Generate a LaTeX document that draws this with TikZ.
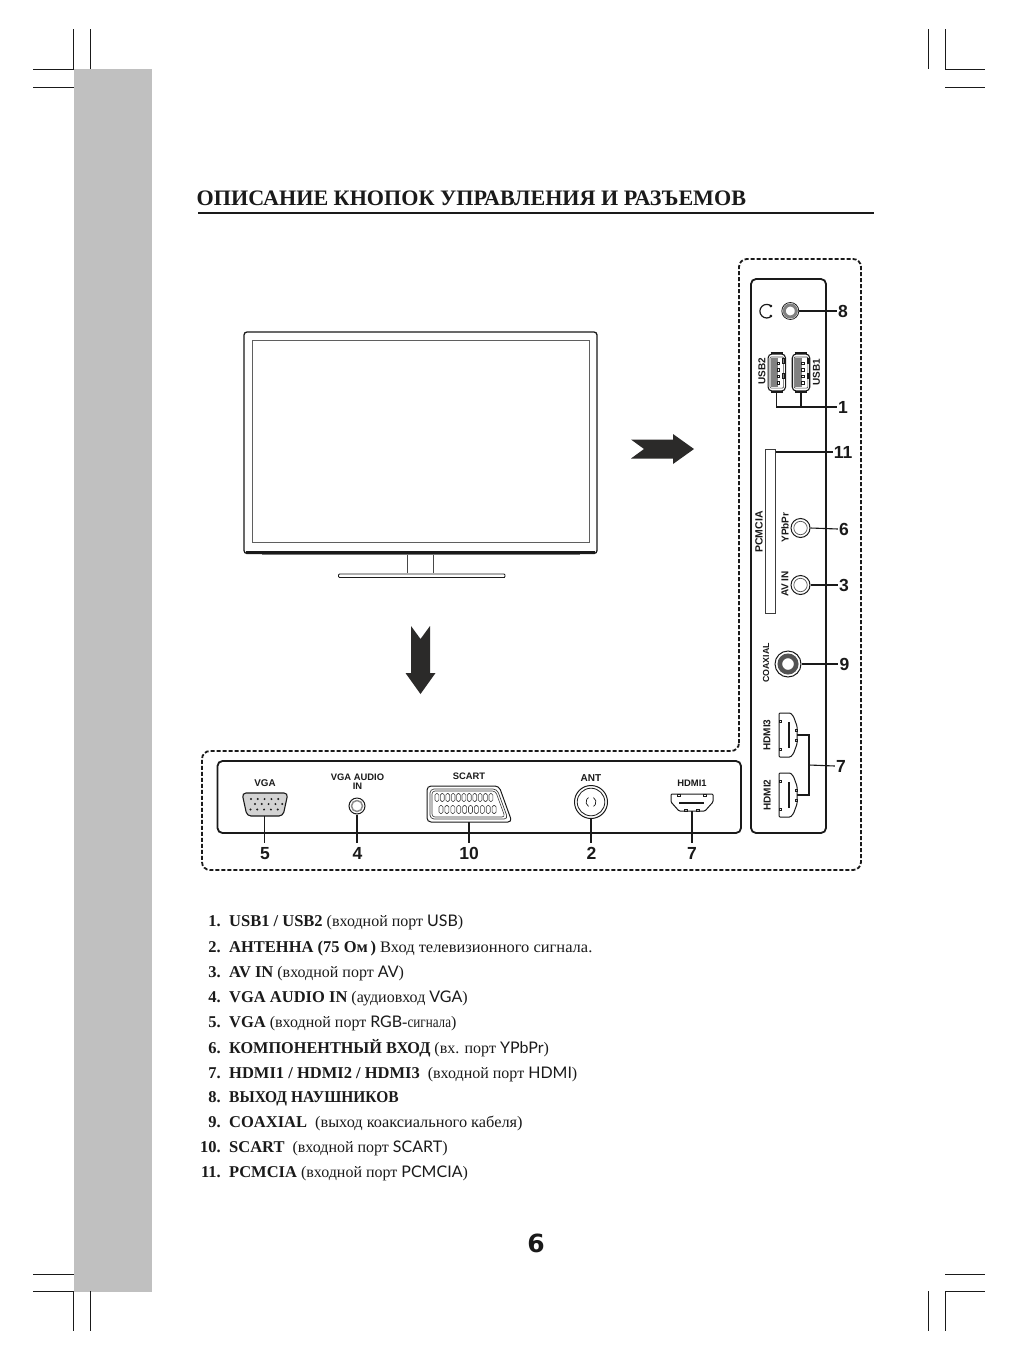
\documentclass[tikz,border=0pt]{standalone}
\usepackage{fontspec}
\setmainfont{Liberation Serif}
\newfontfamily\hsans{Liberation Sans}
\newfontfamily\gsans{Lato}
\newfontfamily\heavy{DejaVu Sans}
\definecolor{band}{HTML}{C0C0C0}
\definecolor{ink}{HTML}{1A1A1A}
\definecolor{arrowink}{HTML}{2B2A29}
\newcommand{\fs}[1]{\fontsize{#1}{#1}\selectfont}
\newcommand{\pl}[1]{{\gsans #1}}
\newcommand{\bt}[1]{\textbf{\fs{16.5}#1}}
\tikzset{
 crop/.style={line width=1pt,draw=ink},
 panel/.style={line width=1.8pt,draw=ink,rounded corners=5pt},
 dashbox/.style={line width=1.8pt,draw=ink,dash pattern=on 4pt off 2pt,rounded corners=8pt},
 lead/.style={line width=1.1pt,draw=ink},
 numlab/.style={font=\hsans\bfseries\fs{17.5},text=ink,inner sep=1pt},
 portlab/.style={font=\hsans\bfseries\fs{9.4},text=ink,inner sep=0pt,align=center},
 sidelab/.style={font=\hsans\bfseries\fs{10},text=ink,inner sep=0pt,rotate=90},
 jack/.style={circle,draw=ink,line width=1pt,fill=white,inner sep=0pt},
 listnum/.style={anchor=base east,inner sep=0pt,font=\bfseries\fs{16.5},text=ink},
 listtxt/.style={anchor=base west,inner sep=0pt,font=\fs{16},text=ink},
 pin/.style={draw=ink!80,line width=.6pt,rounded corners=1.5pt},
 downlead/.style={lead,shorten >=3pt},
}
\begin{document}
\begin{tikzpicture}[x=1pt,y=-1pt]
\useasboundingbox (0,0) rectangle (1020,1360);
\fill[white] (0,0) rectangle (1020,1360);
\fill[band] (74,69) rectangle (152,1292);
% crop marks
\foreach \x in {73.5,90,928,945}{
 \draw[crop] (\x,29)--(\x,69);
 \draw[crop] (\x,1291)--(\x,1331);
}
\foreach \y in {69,87,1274,1291}{
 \draw[crop] (33,\y)--(74,\y);
 \draw[crop] (945,\y)--(985,\y);
}
% title
\node[anchor=base west,inner sep=0pt,font=\bfseries\fs{22.1},text=ink] (title) at (196.5,205) {ОПИСАНИЕ КНОПОК УПРАВЛЕНИЯ И РАЗЪЕМОВ};
\draw[line width=2pt,draw=ink] (198,213)--(874,213);
% TV
\draw[line width=1.3pt,draw=ink,rounded corners=3pt] (244,332)--(597,332)--(597,553.5)--(244,553.5)--cycle;
\draw[line width=.9pt,draw=ink!70] (252,340) rectangle (589,542);
\draw[line width=1.8pt,draw=ink] (246,552)--(595,552);
\draw[line width=.7pt,draw=ink!60] (262,554.5)--(580,554.5);
\draw[line width=.8pt,draw=ink!80] (407.5,555)--(407.5,573);
\draw[line width=.8pt,draw=ink!80] (433,555)--(433,573);
\draw[line width=.8pt,draw=ink,rounded corners=1pt] (338.5,574)--(505,574)--(505,577.5)--(338.5,577.5)--cycle;
\draw[line width=1.5pt,draw=ink] (339,577.3)--(505,577.3);
% block arrows
\fill[arrowink] (631,439.5)--(673,439.5)--(673,434)--(694,449)--(673,464)--(673,458.5)--(631,458.5)--(644,449)--cycle;
\fill[arrowink] (411,626)--(420.5,639)--(430,626)--(430,673)--(435.5,673)--(420.5,694)--(405.5,673)--(411,673)--cycle;
% frames
\draw[dashbox] (739,751)--(739,259)--(861,259)--(861,870)--(202,870)--(202,751)--cycle;
\draw[panel] (751,279) -- (826,279) -- (826,833) -- (751,833) -- cycle;
\draw[panel] (217.5,761) -- (741,761) -- (741,833) -- (217.5,833) -- cycle;
% number labels
\node[numlab] (n8) at (843,311) {8};
\node[numlab] (n1) at (843,407) {1};
\node[numlab] (n11) at (843,452) {11};
\node[numlab] (n6) at (844,529) {6};
\node[numlab] (n3) at (844,585) {3};
\node[numlab] (n9) at (844.5,664) {9};
\node[numlab] (n7r) at (841,766) {7};
\node[numlab] (n5) at (265,853.5) {5};
\node[numlab] (n4) at (357.5,853.5) {4};
\node[numlab] (n10) at (469,853.5) {10};
\node[numlab] (n2) at (591.5,853.5) {2};
\node[numlab] (n7b) at (692,853.5) {7};
% headphone + jack 8
\draw[line width=1.2pt,draw=ink] (771.5,316) arc (45:315:6.8);
\fill[ink] (770.8,316) circle (1.5) (770.8,306) circle (1.5);
\node[jack,minimum size=17pt,line width=.8pt] (j8) at (790.3,311) {};
\draw[draw=ink!55,line width=3pt] (j8.center) circle (6);
\draw[lead] (j8.east)--(n8.west);
% USB
\newcommand{\usbport}[2]{%
 \node[draw=ink,line width=1.1pt,rounded corners=4pt,minimum width=17.5pt,minimum height=37pt,inner sep=0pt] (#1) at (#2) {};
 \draw[draw=ink!80,line width=.6pt,rounded corners=1pt] ([xshift=2.5pt,yshift=-3.5pt]#1.north west) rectangle ([xshift=-2.5pt,yshift=3.5pt]#1.south east);
 \fill[ink!55] ([xshift=3.5pt,yshift=-5pt]#1.north west) rectangle ([xshift=-8pt,yshift=5pt]#1.south east);
 \foreach \d in {-10.5,-4,2.5,9}{\draw[draw=ink,line width=.7pt,fill=white] ([xshift=.5pt,yshift=-\d pt]#1.center) rectangle +(2.4,2.4);}
 \draw[draw=ink,line width=.7pt] ([xshift=6pt,yshift=-6pt]#1.center) rectangle +(1.6,-5);
 \draw[draw=ink,line width=.7pt] ([xshift=6pt,yshift=9pt]#1.center) rectangle +(1.6,-5);
 \draw[draw=ink,line width=2pt] ([xshift=3pt]#1.south west)--([xshift=-3pt]#1.south east);
 \draw[draw=ink,line width=2pt] ([xshift=3pt]#1.north west)--([xshift=-3pt]#1.north east);
}
\usbport{u2}{776.8,372.5}
\usbport{u1}{801,372.5}
\node[sidelab] (lu2) at (762,371.5) {USB2};
\node[sidelab] (lu1) at (816.5,372) {USB1};
\draw[lead] (u2.south) |- (n1.west);
\draw[lead] (u1.south) -- (u1.south |- n1.west);
% PCMCIA
\node[draw=ink!85,line width=1pt,minimum width=10pt,minimum height=164pt,inner sep=0pt] (pc) at (770,531) {};
\node[sidelab,font=\hsans\bfseries\fs{10.5}] (lpc) at (759,532) {PCMCIA};
\draw[lead] (pc.north east |- n11.west) -- (n11.west);
% RCA
\node[jack,minimum size=19pt] (j6) at (800.5,528) {};
\draw[draw=ink!75,line width=.7pt] (j6.center) circle (6.7);
\node[sidelab] (l6) at (785,527.5) {YPbPr};
\draw[lead] (j6.east)--(n6.west);
\node[jack,minimum size=19pt] (j3) at (800.5,585) {};
\draw[draw=ink!75,line width=.7pt] (j3.center) circle (6.7);
\node[sidelab] (l3) at (785,584) {AV IN};
\draw[lead] (j3.east)--(n3.west);
% coaxial
\node[jack,minimum size=26pt] (j9) at (788,664) {};
\draw[draw=ink!75,line width=4.6pt] (j9.center) circle (8.2);
\node[sidelab,font=\hsans\bfseries\fs{8.8}] (l9) at (766,663) {COAXIAL};
\draw[lead] (j9.east)--(n9.west);
% HDMI vertical
\newcommand{\hdmiv}[2]{%
 \node[inner sep=0pt,minimum width=18pt,minimum height=44pt] (#1) at (788,#2) {};
 \begin{scope}[shift={(788,#2)}]
 \draw[line width=1pt,draw=ink,rounded corners=1pt] (-9,-22)--(2.5,-22)--(5.5,-18.5)--(9,-9)--(9,9)--(5.5,18.5)--(2.5,22)--(-9,22)--cycle;
 \draw[line width=2pt,draw=ink] (1,-13)--(1,13);
 \foreach \yy in {-15,13}{\draw[line width=.6pt,draw=ink] (-9,\yy) rectangle (-7,\yy+2.5);}
 \foreach \yy in {-6,4}{\draw[line width=.6pt,draw=ink] (9,\yy) rectangle (7,\yy+2.5);}
 \end{scope}
}
\hdmiv{h3}{735}
\hdmiv{h2}{795}
\node[sidelab] (lh3) at (767,735) {HDMI3};
\node[sidelab] (lh2) at (767,795) {HDMI2};
\coordinate (hj) at (809,765);
\draw[lead] (h3.east) -| (hj) |- (h2.east);
\draw[lead] (hj) -- (n7r.west);
% VGA
\node[inner sep=0pt,minimum width=46pt,minimum height=23pt] (vga) at (264.5,804.5) {};
\draw[line width=1.1pt,draw=ink,fill=band!70,rounded corners=4pt] (242,793)--(288,793)--(283,816)--(247,816)--cycle;
\foreach \i in {0,...,4}{
 \fill[ink] (251+6.8*\i,799) circle (1.1);
 \fill[ink] (255+6.8*\i,804) circle (1.1);
 \fill[ink] (250.5+6.8*\i,809.5) circle (1.1);}
\node[portlab,font=\hsans\bfseries\fs{9.8}] (lvga) at (265,783) {VGA};
\draw[downlead] (vga.south) -- (vga.south |- n5.north);
% audio
\node[jack,minimum size=16pt] (j4) at (357,806) {};
\draw[draw=ink!50,line width=1.5pt] (j4.center) circle (5.5);
\node[portlab] (l4) at (357.5,782) {VGA AUDIO\\[-.5pt]IN};
\draw[downlead] (j4.south) -- (j4.south |- n4.north);
% SCART
\node[inner sep=0pt,minimum width=85pt,minimum height=36pt] (sc) at (469,804) {};
\draw[line width=1pt,draw=ink,rounded corners=4pt] (427,786)--(499,786)--(512,822)--(427,822)--cycle;
\draw[line width=.7pt,draw=ink!85,rounded corners=4pt] (430,789)--(497,789)--(508,819)--(430,819)--cycle;
\draw[line width=.6pt,draw=ink!85,rounded corners=3pt] (432,791)--(495.5,791)--(505,817)--(432,817)--cycle;
\foreach \i in {0,...,10}{\draw[pin] (435+5.4*\i,793.5) rectangle +(3.8,8);}
\foreach \i in {0,...,9}{\draw[pin] (439+5.9*\i,805.5) rectangle +(4,8);}
\node[portlab] (lsc) at (469,776) {SCART};
\draw[downlead] (sc.south) -- (sc.south |- n10.north);
% ANT
\node[jack,minimum size=33pt] (j2) at (591,802) {};
\draw[draw=ink,line width=.8pt] (j2.center) circle (13.8);
\draw[draw=ink,line width=.7pt] (j2.center) ++(120:5) arc (120:240:5);
\draw[draw=ink,line width=.7pt] (j2.center) ++(-60:5) arc (-60:60:5);
\node[portlab,font=\hsans\bfseries\fs{10}] (l2) at (591,778) {ANT};
\draw[downlead] (j2.south) -- (j2.south |- n2.north);
% HDMI1
\node[inner sep=0pt,minimum width=42pt,minimum height=17pt] (h1) at (692,802.5) {};
\draw[line width=1pt,draw=ink,rounded corners=1pt] (671,794)--(713,794)--(713,802)--(705,811)--(679,811)--(671,802)--cycle;
\draw[line width=2pt,draw=ink] (679,803)--(704,803);
\foreach \xx in {677,703}{\draw[line width=.6pt,draw=ink] (\xx,794) rectangle +(3,2);}
\foreach \xx in {684,696}{\draw[line width=.6pt,draw=ink] (\xx,811) rectangle +(3,-2);}
\node[portlab] (lh1) at (692,783) {HDMI1};
\draw[downlead] (h1.south) -- (h1.south |- n7b.north);
% list
\newcommand{\litem}[3]{\node[listnum] (ln#1) at (221,#2) {#1.};\node[listtxt] (lt#1) at (229,#2) {#3};}
\litem{1}{926}{\bt{USB1 / USB2} (входной порт \pl{USB})}
\litem{2}{952}{\bt{АНТЕННА (75 Ом\,)} \scalebox{1.03}[1]{Вход телевизионного сигнала.}}
\litem{3}{977}{\bt{AV IN} (входной порт \pl{AV})}
\litem{4}{1002}{\bt{VGA AUDIO IN} (аудиовход \pl{VGA})}
\litem{5}{1027}{\bt{VGA} (входной порт \pl{RGB}-\scalebox{.82}[1]{сигнала})}
\litem{6}{1053}{\bt{\scalebox{.985}[1]{КОМПОНЕНТНЫЙ ВХОД}} (вх. порт \pl{YPbPr})}
\litem{7}{1078}{\bt{HDMI1 / HDMI2 / HDMI3}\ \ (входной порт \pl{HDMI})}
\litem{8}{1102}{\bt{\scalebox{.94}[1]{ВЫХОД НАУШНИКОВ}}}
\litem{9}{1127}{\bt{COAXIAL}\ \ \scalebox{1.02}[1]{(выход коаксиального кабеля)}}
\litem{10}{1152}{\bt{SCART}\ \ (входной порт \pl{SCART})}
\litem{11}{1177}{\bt{PCMCIA} (входной порт \pl{PCMCIA})}
% page number
\node[inner sep=0pt,anchor=base,font=\heavy\bfseries\fs{25},text=ink] (pg) at (536,1252) {6};
\end{tikzpicture}
\end{document}
